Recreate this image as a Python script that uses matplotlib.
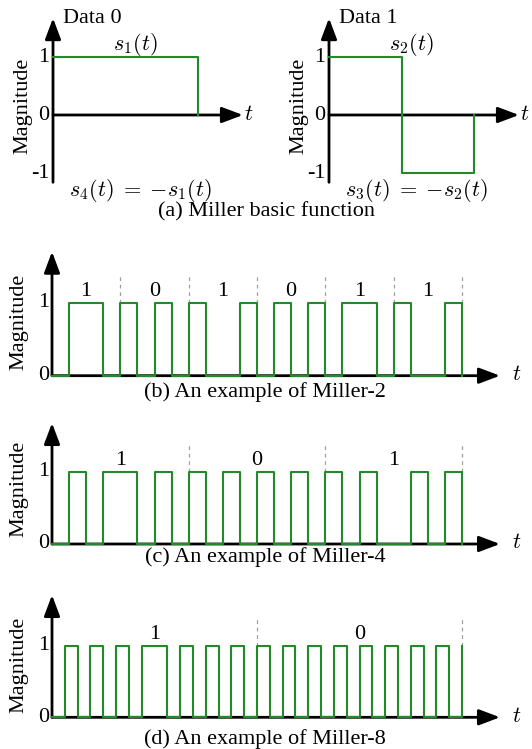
import numpy as np
import matplotlib
matplotlib.use("Agg")
import matplotlib.pyplot as plt

plt.rcParams['font.family'] = ['Liberation Serif', 'DejaVu Serif']
plt.rcParams['mathtext.fontset'] = 'cm'

# basic functions: one level per half symbol
s1_levels = [1]
s2_levels = [1, -1]

# Miller subcarrier levels, one value per slot (2M slots per bit)
bits_m2 = [1, 0, 1, 0, 1, 1]
levels_m2 = [0, 1, 1, 0, 1, 0, 1, 0, 1, 0, 0, 1,
             0, 1, 0, 1, 0, 1, 1, 0, 1, 0, 0, 1]
bits_m4 = [1, 0, 1]
levels_m4 = [0, 1, 0, 1, 1, 0, 1, 0, 1, 0, 1, 0,
             1, 0, 1, 0, 1, 0, 1, 0, 0, 1, 0, 1]
bits_m8 = [1, 0]
levels_m8 = [0, 1, 0, 1, 0, 1, 0, 1, 1, 0, 1, 0, 1, 0, 1, 0,
             1, 0, 1, 0, 1, 0, 1, 0, 1, 0, 1, 0, 1, 0, 1, 0]

W, H = 532, 749
GREEN = '#23892a'
FS = 16

fig = plt.figure(figsize=(W / 100, H / 100), dpi=100)


def panel(x0, y0, sx, sy, xlim, ylim):
    # axes placed so that data (0, 0) lands on pixel (x0, y0)
    left = x0 + xlim[0] * sx
    right = x0 + xlim[1] * sx
    top = y0 - ylim[1] * sy
    bottom = y0 - ylim[0] * sy
    ax = fig.add_axes([left / W, 1 - bottom / H, (right - left) / W, (bottom - top) / H])
    ax.set_xlim(xlim)
    ax.set_ylim(ylim)
    ax.axis('off')
    return ax


def arrow(ax, start, tip):
    ax.annotate('', xy=tip, xytext=start, annotation_clip=False,
                arrowprops=dict(arrowstyle='-|>,head_length=0.85,head_width=0.32',
                                mutation_scale=15, lw=2, color='black',
                                shrinkA=0, shrinkB=0))


def signal(ax, levels, length, end_level):
    x = np.linspace(0, length, len(levels) + 1)
    y = list(levels) + [end_level]
    ax.plot(x, y, drawstyle='steps-post', color=GREEN, lw=1.5, zorder=5,
            clip_on=False)


# (a) basic functions
for x0, levels, name, rel, tag in [(53, s1_levels, r'$s_1(t)$', r'$s_4(t)\;=\;{-}s_1(t)$', 'Data 0'),
                                   (329, s2_levels, r'$s_2(t)$', r'$s_3(t)\;=\;{-}s_2(t)$', 'Data 1')]:
    sx, sy = 145, 58
    ax = panel(x0, 115, sx, sy, (-0.4, 1.4), (-1.2, 1.7))
    arrow(ax, (0, -1.16), (0, 1.67))
    arrow(ax, (0, 0), (1.31, 0))
    signal(ax, levels, 1, 0)
    ax.text(1.35, 0, '$t$', fontsize=FS, ha='center', va='center')
    for v in [1, 0, -1]:
        ax.text(-0.025, v, str(v), fontsize=FS, ha='right', va='center')
    ax.text(-0.21, 0.15, 'Magnitude', fontsize=FS, rotation=90, ha='center', va='center')
    ax.text(0.07, 1.67, tag, fontsize=FS, ha='left', va='center')
    ax.text(0.57, 1.22, name, fontsize=FS, ha='center', va='center')
    ax.text(0.6, -1.3, rel, fontsize=FS, ha='center', va='center')

fig.text(266 / W, 1 - 212 / H, '(a) Miller basic function', fontsize=FS,
         ha='center', va='center')

# (b)-(d) Miller-M examples
examples = [(bits_m2, levels_m2, 0, 375.7, 73.0, 251.7, 322, 391.7, '(b) An example of Miller-2'),
            (bits_m4, levels_m4, 0, 544.0, 72.3, 423.0, 489, 556.7, '(c) An example of Miller-4'),
            (bits_m8, levels_m8, 1, 717.3, 71.3, 595.0, 665, 739.0, '(d) An example of Miller-8')]

for bits, levels, end_level, y0, sy, ytop, ymag, ycap, caption in examples:
    n = len(bits)
    sx = 410 / n
    x0 = 52
    ax = panel(x0, y0, sx, sy, (-40 / sx, 475 / sx), (-0.2, (y0 - ytop) / sy))
    arrow(ax, (0, 0), ((500 - x0) / sx, 0))
    arrow(ax, (0, 0), (0, (y0 - ytop) / sy))
    signal(ax, levels, n, end_level)
    for k in range(1, n + 1):
        ax.plot([k, k], [1, 1.4], color='#a0a0a0', lw=0.9, ls=(0, (3, 3)), zorder=3)
    for k, b in enumerate(bits):
        ax.text(k + 0.5, 1.16, str(b), fontsize=FS, ha='center', va='center')
    for v in [1, 0]:
        ax.text(-3 / sx, v, str(v), fontsize=FS, ha='right', va='center')
    ax.text(-33 / sx, (y0 - ymag) / sy, 'Magnitude', fontsize=FS, rotation=90,
            ha='center', va='center')
    ax.text((517 - x0) / sx, 0, '$t$', fontsize=FS, ha='center', va='center')
    fig.text(265 / W, 1 - ycap / H, caption, fontsize=FS, ha='center', va='center')

fig.savefig('out.png', dpi=100)
